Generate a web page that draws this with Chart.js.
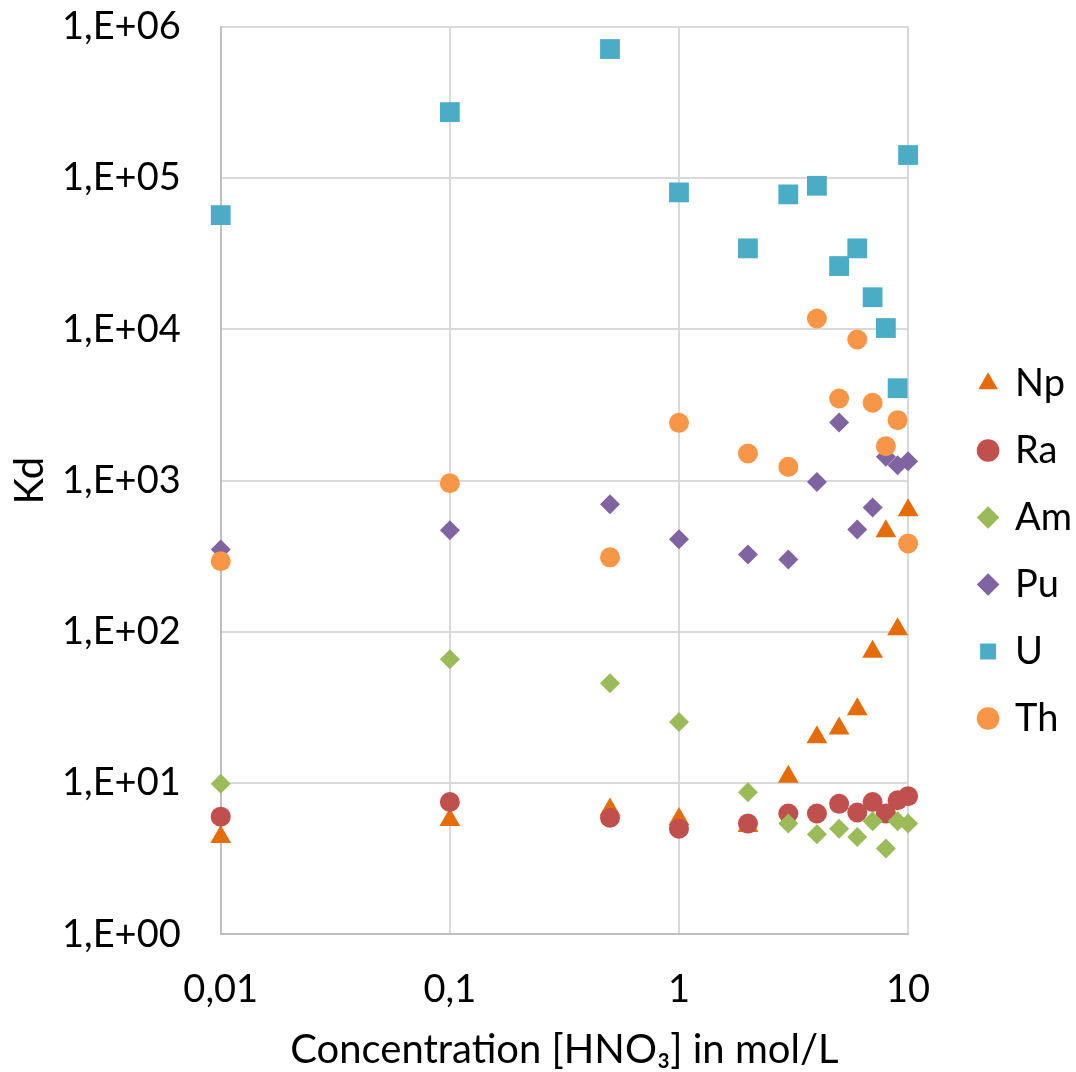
<!DOCTYPE html>
<html>
<head>
<meta charset="utf-8">
<title>Kd vs HNO3</title>
<script src="https://cdn.jsdelivr.net/npm/chart.js@4.4.0/dist/chart.umd.min.js"></script>
<style>
  body { margin: 0; background: #fff; }
  #wrap { width: 1076px; height: 1072px; }
</style>
</head>
<body>
<div id="wrap"><canvas id="chartKd" width="1076" height="1072"></canvas></div>
<script>
// concentrações de HNO3 (mol/L)
const concentrations = [0.01, 0.1, 0.5, 1, 2, 3, 4, 5, 6, 7, 8, 9, 10];

// Kd
const kdNp = [4.4, 5.7, 6.7, 5.8, 5.2, 11.0, 20.1, 23.0, 30.8, 74, 463, 104, 637];
const kdRa = [6.0, 7.5, 5.9, 5.0, 5.4, 6.3, 6.3, 7.3, 6.4, 7.5, 6.3, 7.7, 8.2];
const kdAm = [9.9, 66, 45.7, 25.4, 8.7, 5.4, 4.6, 5.0, 4.4, 5.6, 3.7, 5.6, 5.4];
const kdPu = [350, 470, 698, 410, 325, 301, 980, 2420, 475, 664, 1435, 1265, 1344];
const kdU = [56900, 273000, 713000, 80400, 34300, 78000, 88900, 26200, 34300, 16300, 10200, 4080, 142000];
const kdTh = [293, 961, 311, 2410, 1510, 1233, 11800, 3490, 8570, 3270, 1690, 2510, 384];

const seriesNames = ['Np', 'Ra', 'Am', 'Pu', 'U', 'Th'];

// ticks dos eixos
const xTickValues = [0.01, 0.1, 1, 10];
const xTickLabels = ['0,01', '0,1', '1', '10'];
const yTickValues = [1, 10, 100, 1000, 10000, 100000, 1000000];
const yTickLabels = ['1,E+00', '1,E+01', '1,E+02', '1,E+03', '1,E+04', '1,E+05', '1,E+06'];

const KdChart = {

    construct(){
        KdChart.drawChart()
    },
    toPoints(values){
        return concentrations.map((c, i) => ({x: c, y: values[i]}))
    },
    // empurra a legenda para a direita (e um pouco para baixo), como no Excel
    legendOffset: {
        id: 'legendOffset',
        afterLayout(chart){
            const lg = chart.legend
            lg.left += 43
            lg.right += 43
            lg.top += 13
            lg.bottom += 13
        }
    },
    drawChart(){
        const FONT = 'Lato, "Open Sans", sans-serif';
        const styles = [
            {color: '#E46C0A', pointStyle: 'triangle', radius: 12},
            {color: '#C0504D', pointStyle: 'circle', radius: 10},
            {color: '#9BBB59', pointStyle: 'rectRot', radius: 10},
            {color: '#8064A2', pointStyle: 'rectRot', radius: 10},
            {color: '#4BACC6', pointStyle: 'rect', radius: 14},
            {color: '#F79646', pointStyle: 'circle', radius: 10}
        ];
        const allValues = [kdNp, kdRa, kdAm, kdPu, kdU, kdTh];

        const datasets = allValues.map((vals, i) => ({
            label: seriesNames[i],
            data: KdChart.toPoints(vals),
            backgroundColor: styles[i].color,
            borderColor: styles[i].color,
            borderWidth: 0,
            pointStyle: styles[i].pointStyle,
            pointRadius: styles[i].radius,
            pointHoverRadius: styles[i].radius,
            clip: false,
            // as últimas séries ficam por cima
            order: allValues.length - i
        }));

        const ctx = document.getElementById('chartKd');
        const myChart = new Chart(ctx, {
            type: 'scatter',
            data: { datasets: datasets },
            plugins: [KdChart.legendOffset],
            options: {
                responsive: false,
                animation: false,
                layout: {
                    padding: { top: 4, right: 37, bottom: 0, left: 4 }
                },
                plugins: {
                    tooltip: { enabled: false },
                    legend: {
                        position: 'right',
                        labels: {
                            usePointStyle: true,
                            boxWidth: 16,
                            boxHeight: 16,
                            padding: 29,
                            color: '#000',
                            font: { family: FONT, size: 38 },
                            sort: (a, b) => a.datasetIndex - b.datasetIndex
                        }
                    }
                },
                scales: {
                    x: {
                        type: 'logarithmic',
                        min: 0.01,
                        max: 10,
                        afterBuildTicks: (scale) => {
                            scale.ticks = xTickValues.map(v => ({value: v}));
                        },
                        ticks: {
                            color: '#000',
                            padding: 33,
                            maxRotation: 0,
                            font: { family: FONT, size: 38 },
                            callback: (val) => xTickLabels[xTickValues.indexOf(val)]
                        },
                        grid: { color: '#d9d9d9', lineWidth: 2, drawTicks: false },
                        border: { color: '#bfbfbf', width: 2 },
                        title: {
                            display: true,
                            text: 'Concentration [HNO\u2083] in mol/L',
                            color: '#000',
                            font: { family: FONT, size: 40 },
                            padding: { top: -20, bottom: -2 }
                        }
                    },
                    y: {
                        type: 'logarithmic',
                        min: 1,
                        max: 1000000,
                        afterBuildTicks: (scale) => {
                            scale.ticks = yTickValues.map(v => ({value: v}));
                        },
                        ticks: {
                            color: '#000',
                            padding: 4,
                            font: { family: FONT, size: 38 },
                            callback: (val) => yTickLabels[yTickValues.indexOf(val)]
                        },
                        grid: {
                            color: '#d9d9d9',
                            lineWidth: 2,
                            drawTicks: true,
                            tickLength: 36,
                            tickColor: 'rgba(0,0,0,0)'
                        },
                        border: { color: '#bfbfbf', width: 2 },
                        title: {
                            display: true,
                            text: 'Kd',
                            color: '#000',
                            font: { family: FONT, size: 40 },
                            padding: { top: 2, bottom: 4 }
                        }
                    }
                }
            }
        });
    }
}

KdChart.construct()
</script>
</body>
</html>
